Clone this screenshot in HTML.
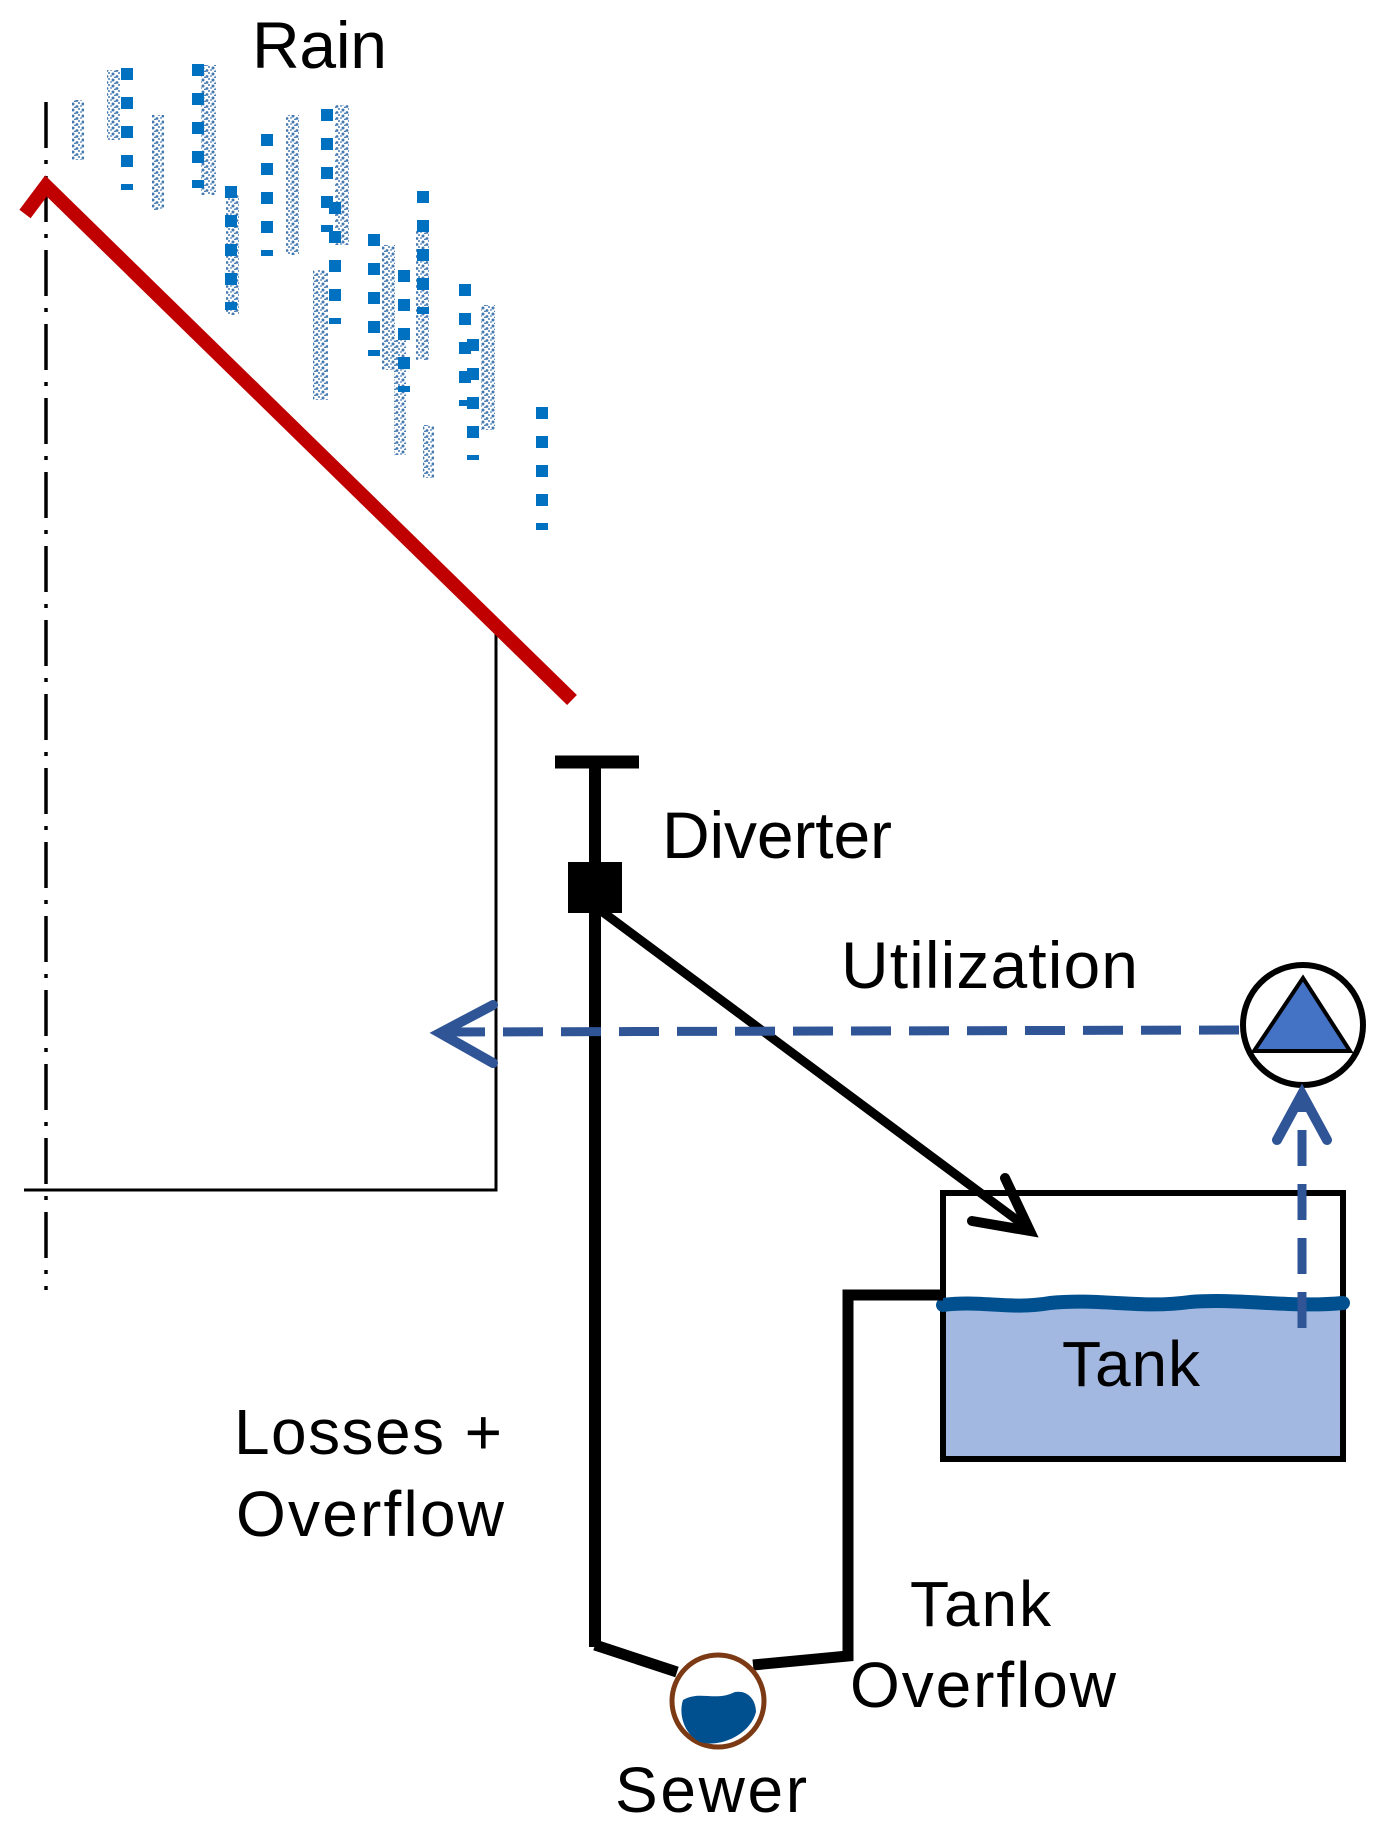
<!DOCTYPE html>
<html><head><meta charset="utf-8"><style>
html,body{margin:0;padding:0;background:#fff}
svg{display:block}
text{font-family:"Liberation Sans",Arial,sans-serif;fill:#000}
</style></head><body>
<svg width="1377" height="1840" viewBox="0 0 1377 1840" xmlns="http://www.w3.org/2000/svg">
<defs>
<pattern id="sp" width="10" height="6" patternUnits="userSpaceOnUse">
<circle cx="3" cy="2" r="1.5" fill="#2f6aa8"/><circle cx="7" cy="4.5" r="1.4" fill="#2f6aa8"/><circle cx="5" cy="5.5" r="1" fill="#2f6aa8"/><circle cx="9" cy="1" r="1" fill="#2f6aa8"/><circle cx="1" cy="4" r="0.9" fill="#2f6aa8"/>
</pattern>
</defs>
<g opacity="0.9">
<rect x="72" y="100" width="12" height="60" fill="url(#sp)"/>
<rect x="107" y="70" width="13" height="70" fill="url(#sp)"/>
<rect x="152" y="115" width="12" height="95" fill="url(#sp)"/>
<rect x="201" y="65" width="15" height="130" fill="url(#sp)"/>
<rect x="226" y="195" width="13" height="120" fill="url(#sp)"/>
<rect x="286" y="115" width="13" height="140" fill="url(#sp)"/>
<rect x="335" y="105" width="14" height="140" fill="url(#sp)"/>
<rect x="313" y="270" width="15" height="130" fill="url(#sp)"/>
<rect x="382" y="245" width="13" height="125" fill="url(#sp)"/>
<rect x="394" y="340" width="12" height="115" fill="url(#sp)"/>
<rect x="416" y="230" width="13" height="130" fill="url(#sp)"/>
<rect x="481" y="305" width="14" height="125" fill="url(#sp)"/>
<rect x="423" y="425" width="11" height="53" fill="url(#sp)"/>
</g>
<g stroke="#0070c0" stroke-width="12" stroke-dasharray="12 17">
<line x1="127" y1="68" x2="127" y2="190"/>
<line x1="198" y1="64" x2="198" y2="188"/>
<line x1="231" y1="186" x2="231" y2="310"/>
<line x1="267" y1="134" x2="267" y2="256"/>
<line x1="327" y1="109" x2="327" y2="232"/>
<line x1="335" y1="202" x2="335" y2="324"/>
<line x1="374" y1="234" x2="374" y2="356"/>
<line x1="404" y1="270" x2="404" y2="392"/>
<line x1="423" y1="191" x2="423" y2="314"/>
<line x1="465" y1="284" x2="465" y2="406"/>
<line x1="473" y1="339" x2="473" y2="460"/>
<line x1="542" y1="407" x2="542" y2="530"/>
</g>
<text x="252" y="68" font-size="66" textLength="135">Rain</text>
<line x1="46" y1="102" x2="46" y2="1290" stroke="#000" stroke-width="3.5" stroke-dasharray="46 12 4 12"/>
<polyline points="496,633 496,1190 24,1190" fill="none" stroke="#000" stroke-width="3"/>
<polyline points="25,214 46,186 572,700" fill="none" stroke="#c00000" stroke-width="14"/>
<line x1="555" y1="762" x2="639" y2="762" stroke="#000" stroke-width="13"/>
<line x1="595" y1="762" x2="595" y2="1647" stroke="#000" stroke-width="12"/>
<rect x="568" y="862" width="54" height="51" fill="#000"/>
<text x="662" y="858" font-size="66" textLength="230">Diverter</text>
<line x1="600" y1="910" x2="1025" y2="1226" stroke="#000" stroke-width="9"/>
<polyline points="1005,1178 1030,1231 972,1221" fill="none" stroke="#000" stroke-width="10" stroke-linejoin="miter" stroke-linecap="round"/>
<text x="841" y="988" font-size="66" textLength="297">Utilization</text>
<line x1="445" y1="1032" x2="1242" y2="1030" stroke="#2f5597" stroke-width="9" stroke-dasharray="40 18"/>
<polyline points="493,1005 440,1033 493,1063" fill="none" stroke="#2f5597" stroke-width="10" stroke-linecap="round"/>
<circle cx="1303" cy="1025" r="60" fill="#fff" stroke="#000" stroke-width="6"/>
<polygon points="1303,978 1254,1051 1350,1051" fill="#4472c4" stroke="#000" stroke-width="4"/>
<rect x="943" y="1305" width="400" height="154" fill="#a2b8e0"/>
<rect x="943" y="1193" width="400" height="266" fill="none" stroke="#000" stroke-width="6"/>
<path d="M943,1305 C980,1300 1010,1310 1050,1303 C1100,1298 1140,1309 1190,1302 C1240,1298 1290,1308 1343,1303" fill="none" stroke="#005090" stroke-width="14" stroke-linecap="round"/>
<text x="1062" y="1386" font-size="64" textLength="138">Tank</text>
<line x1="1302" y1="1328" x2="1302" y2="1098" stroke="#2f5597" stroke-width="9" stroke-dasharray="36 18"/>
<polyline points="1277,1140 1302,1094 1327,1140" fill="none" stroke="#2f5597" stroke-width="10" stroke-linecap="round"/>
<polyline points="943,1295 848,1295 848,1656 753,1665" fill="none" stroke="#000" stroke-width="11"/>
<polyline points="595,1645 677,1672" fill="none" stroke="#000" stroke-width="11"/>
<circle cx="718" cy="1701" r="46" fill="#fff" stroke="#7b3a14" stroke-width="5"/>
<path d="M683,1700 C700,1690 715,1702 735,1692 C748,1690 756,1700 756,1712 C750,1735 720,1748 700,1742 C685,1735 678,1715 683,1700 Z" fill="#005090"/>
<text x="615" y="1812" font-size="64" textLength="192">Sewer</text>
<text x="234" y="1454" font-size="64" textLength="268">Losses +</text>
<text x="236" y="1536" font-size="64" textLength="268">Overflow</text>
<text x="910" y="1626" font-size="64" textLength="141">Tank</text>
<text x="850" y="1707" font-size="64" textLength="266">Overflow</text>
</svg>
</body></html>
